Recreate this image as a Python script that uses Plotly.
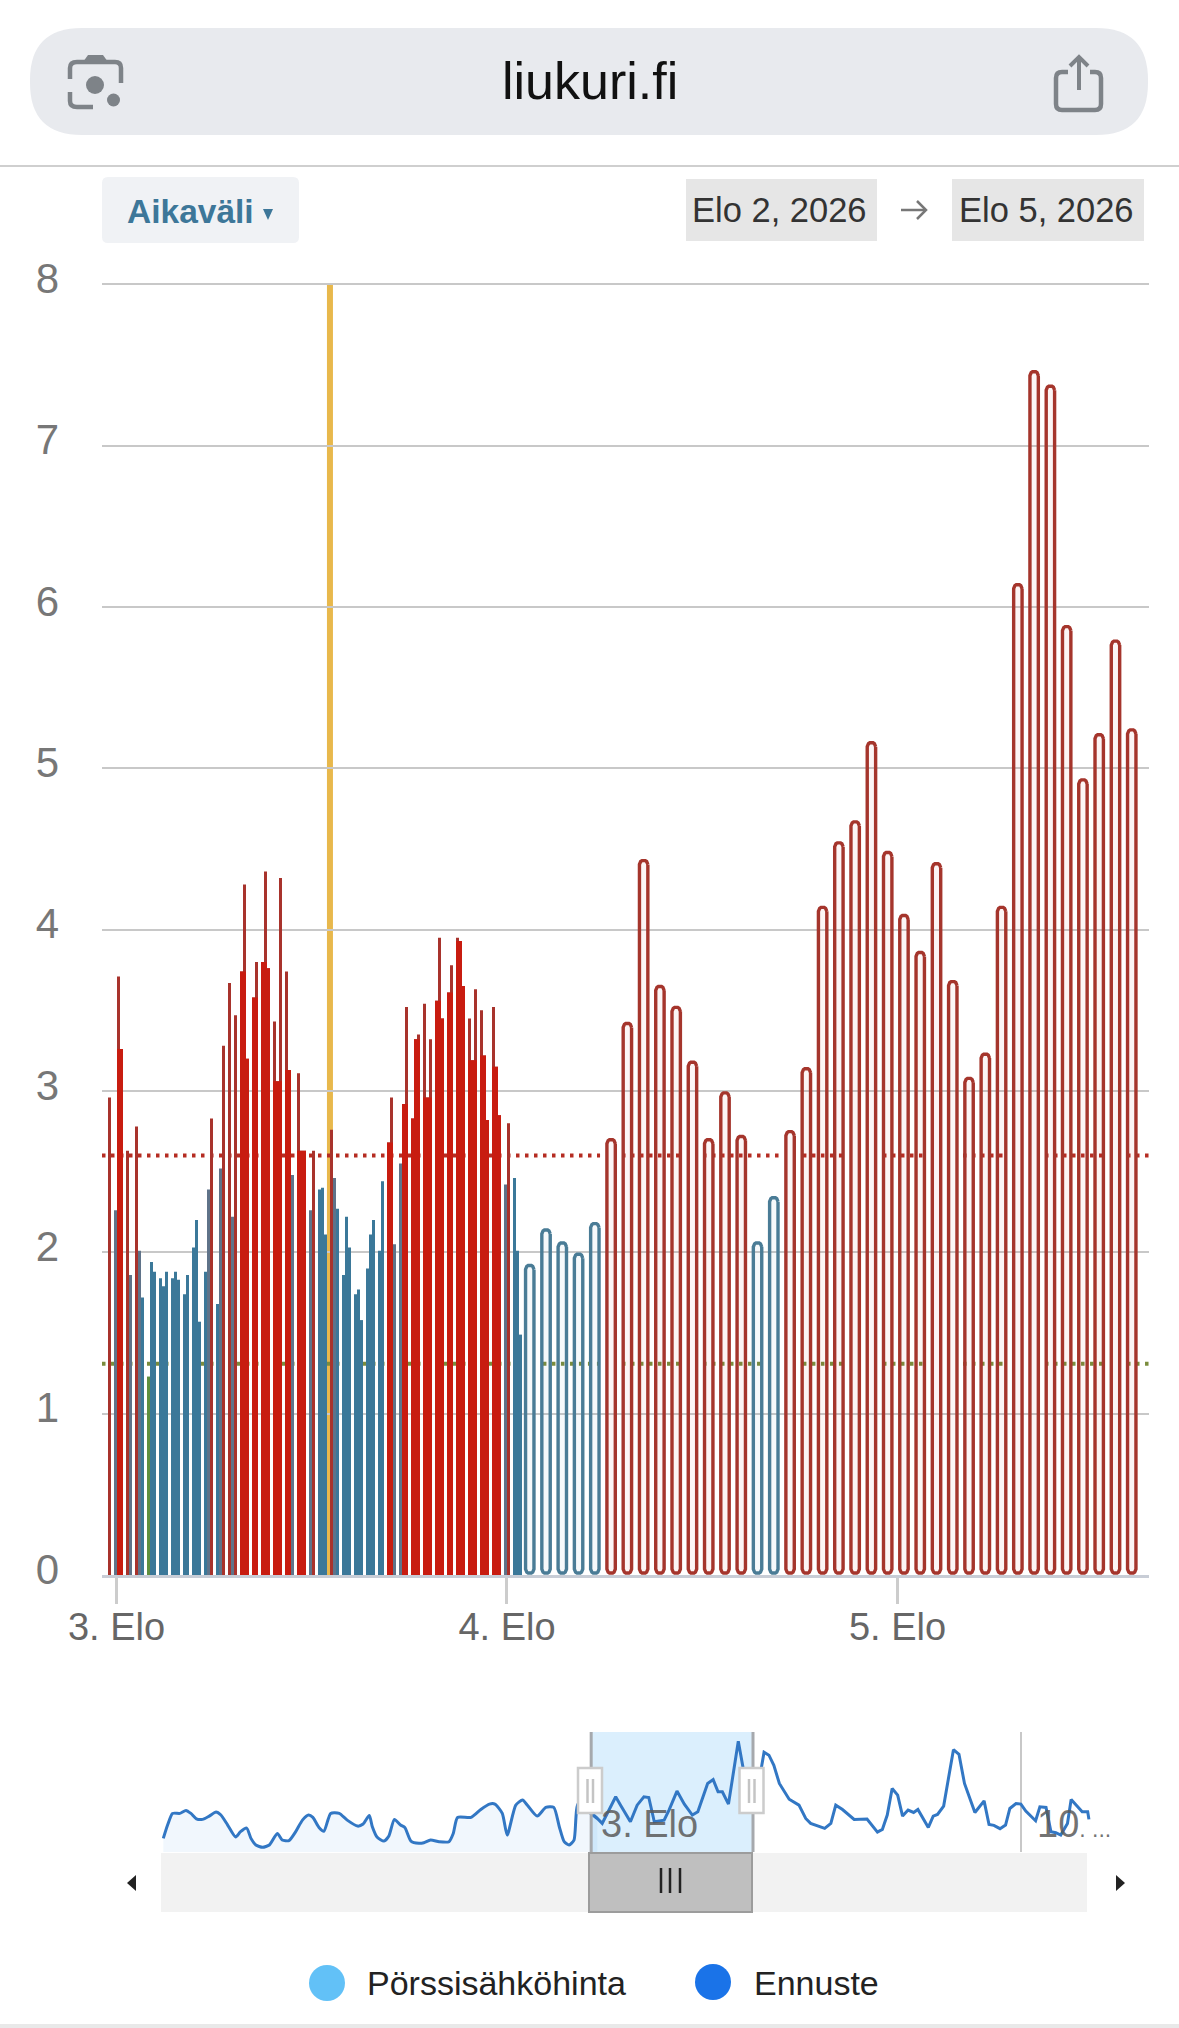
import numpy as np
import plotly.graph_objects as go

W, H = 1179, 2028

# quarter-hour prices from 3. Elo morning on
QUARTER_PRICES = [
    2.96, 2.26, 3.71, 3.26, 2.63, 1.86, 2.78, 2.01, 1.72, 1.23, 1.94, 1.88,
    1.84, 1.79, 1.88, 1.84, 1.88, 1.83, 1.74, 1.86, 2.03, 2.20, 1.57, 1.88,
    2.39, 2.83, 1.68, 2.52, 3.28, 3.67, 2.22, 3.47, 3.74, 4.28, 3.20, 3.58,
    3.80, 3.80, 4.36, 3.76, 3.43, 3.06, 4.32, 3.74, 3.13, 2.48, 3.11, 2.63,
    2.63, 2.26, 2.63, 2.39, 2.40, 2.11, 2.76, 2.46, 2.27, 1.86, 2.22, 2.03,
    1.74, 1.77, 1.58, 1.90, 2.11, 2.20, 2.01, 2.44, 2.68, 2.96, 2.05, 2.55,
    2.92, 3.52, 2.83, 3.32, 3.35, 3.54, 2.96, 3.32, 3.56, 3.95, 3.45, 3.61,
    3.78, 3.95, 3.93, 3.65, 3.45, 3.19, 3.63, 3.50, 3.22, 2.82, 3.52, 3.15,
    2.85, 2.42, 2.80, 2.46, 2.01, 1.49,
]
# hourly forecast after that
HOURLY_PRICES = [
    1.92, 2.14, 2.06, 1.99, 2.18, 2.70, 3.42, 4.43, 3.65, 3.52, 3.18, 2.70,
    2.99, 2.72, 2.06, 2.34, 2.75, 3.14, 4.14, 4.54, 4.67, 5.16, 4.48, 4.09,
    3.86, 4.41, 3.68, 3.08, 3.23, 4.14, 6.14, 7.46, 7.37, 5.88, 4.93, 5.21,
    5.79, 5.24,
]
PRICE_HIGH = 2.6
PRICE_LOW = 1.31
NOW_HOUR = 13.12

Y_TICKS = [0, 1, 2, 3, 4, 5, 6, 7, 8]
DAY_TICKS = [0, 24, 48]
DAY_LABELS = ["3. Elo", "4. Elo", "5. Elo"]

# navigator series, days from 3. Elo
NAV_DAYS = [
    -6.99, -6.92, -6.84, -6.72, -6.62, -6.54, -6.45, -6.35, -6.24, -6.13, -6.05, -5.94,
    -5.81, -5.73, -5.63, -5.56, -5.48, -5.37, -5.26, -5.13, -5.05, -4.94, -4.83, -4.72,
    -4.62, -4.55, -4.45, -4.37, -4.26, -4.12, -3.99, -3.82, -3.73, -3.63, -3.58, -3.50,
    -3.39, -3.31, -3.22, -3.12, -3.05, -2.95, -2.82, -2.74, -2.63, -2.49, -2.33, -2.26,
    -2.19, -1.97, -1.81, -1.67, -1.58, -1.46, -1.38, -1.24, -1.13, -1.05, -0.89, -0.75,
    -0.62, -0.53, -0.45, -0.37, -0.29, -0.22, 0.09, 0.17, 0.39, 0.47, 0.63, 0.74,
    0.85, 0.93, 1.02, 1.18, 1.26, 1.39, 1.51, 1.64, 1.73, 1.89, 1.98, 2.06,
    2.13, 2.23, 2.39, 2.47, 2.76, 2.81, 2.89, 2.97, 3.06, 3.22, 3.38, 3.49,
    3.57, 3.80, 3.90, 3.98, 4.09, 4.28, 4.49, 4.66, 4.74, 4.82, 4.90, 4.99,
    5.07, 5.16, 5.25, 5.32, 5.49, 5.57, 5.64, 5.74, 5.90, 5.99, 6.08, 6.25,
    6.40, 6.48, 6.56, 6.66, 6.75, 6.82, 6.92, 7.00, 7.08, 7.24, 7.31, 7.41,
    7.49, 7.57, 7.65, 7.76, 7.82, 8.00, 8.09, 8.11,
]
NAV_PRICES = [
    0.91, 1.80, 2.58, 2.58, 2.78, 2.58, 2.22, 2.18, 2.40, 2.67, 2.47, 1.80,
    1.00, 1.36, 1.60, 0.91, 0.47, 0.31, 0.47, 1.24, 0.80, 0.76, 1.36, 2.13,
    2.47, 2.31, 1.64, 1.38, 2.58, 2.58, 2.13, 1.73, 1.87, 2.44, 1.69, 0.98,
    0.73, 1.07, 2.18, 1.80, 1.64, 0.73, 0.58, 0.62, 0.80, 0.69, 0.69, 1.24,
    2.31, 2.31, 2.84, 3.20, 3.20, 2.58, 1.13, 3.13, 3.47, 3.13, 2.40, 2.98,
    2.98, 1.69, 0.69, 0.47, 0.80, 3.24, 2.24, 1.91, 3.69, 3.13, 2.02, 3.13,
    3.69, 3.64, 2.02, 2.13, 2.80, 4.07, 3.20, 2.47, 2.69, 4.58, 4.84, 4.02,
    4.02, 3.20, 7.40, 5.58, 5.47, 6.67, 6.47, 5.80, 4.58, 3.53, 3.13, 2.24,
    1.91, 1.58, 1.91, 3.13, 2.84, 2.18, 2.20, 1.33, 1.51, 2.47, 4.24, 3.80,
    2.40, 2.80, 2.64, 2.84, 1.64, 2.40, 2.51, 3.07, 6.84, 6.53, 4.58, 2.64,
    3.42, 1.84, 1.78, 1.56, 1.80, 2.91, 3.24, 3.20, 2.73, 2.09, 3.02, 2.98,
    1.36, 1.29, 1.13, 1.91, 3.51, 2.69, 2.69, 2.18,
]
NAV_SELECTION = [-0.01, 2.63]

# stretches (hours) where the dotted limit lines are not drawn
HIGH_GAPS = [(29.72, 31.07), (34.76, 36.05), (40.78, 42.19), (44.78, 47.11),
             (49.82, 52.03), (54.73, 57.07), (60.76, 62.11)]
LOW_GAPS = [(24.62, 26.21), (29.72, 31.07), (34.76, 36.05), (39.74, 42.19), (44.78, 47.11),
            (49.82, 52.03), (54.73, 57.07), (60.76, 62.11)]

RED = "#a8332c"
RED_BRIGHT = "#c81c10"
BLUE = "#3b7899"
BLUE_GREY = "#5f7389"
GREEN = "#5f8f3e"
GRID = "#c8c8c8"
ICON = "#7e8388"

PX_PER_HOUR = 16.27
HOUR_ZERO_PX = 116.5
X_RANGE = [(102 - HOUR_ZERO_PX) / PX_PER_HOUR, (1149 - HOUR_ZERO_PX) / PX_PER_HOUR]
NAV_RANGE = [-7.99, 9.09]


def px(x):
    return x / W


def py(y):
    return 1 - y / H


def rounded_rect(x0, y0, x1, y1, r):
    return (
        f"M {px(x0 + r)} {py(y0)} L {px(x1 - r)} {py(y0)} Q {px(x1)} {py(y0)} {px(x1)} {py(y0 + r)} "
        f"L {px(x1)} {py(y1 - r)} Q {px(x1)} {py(y1)} {px(x1 - r)} {py(y1)} "
        f"L {px(x0 + r)} {py(y1)} Q {px(x0)} {py(y1)} {px(x0)} {py(y1 - r)} "
        f"L {px(x0)} {py(y0 + r)} Q {px(x0)} {py(y0)} {px(x0 + r)} {py(y0)} Z"
    )


def polyline(points):
    out = []
    for i, p in enumerate(points):
        if p[0] == "Q":
            out.append(f"Q {px(p[1])} {py(p[2])} {px(p[3])} {py(p[4])}")
        else:
            out.append(f"{'M' if i == 0 else 'L'} {px(p[0])} {py(p[1])}")
    return " ".join(out)


def box(x0, y0, x1, y1, fill, line=None, width=0):
    return dict(type="rect", xref="paper", yref="paper", x0=px(x0), x1=px(x1), y0=py(y0), y1=py(y1),
                fillcolor=fill, line=dict(color=line or fill, width=width), layer="above")


def stroke(points, color, width):
    return dict(type="path", xref="paper", yref="paper", path=polyline(points),
                line=dict(color=color, width=width), layer="above")


def dot(cx, cy, r, color):
    return dict(type="circle", xref="paper", yref="paper", x0=px(cx - r), x1=px(cx + r),
                y0=py(cy - r), y1=py(cy + r), fillcolor=color, line=dict(width=0), layer="above")


def text(x, y, s, size, color="#333333", bold=False, anchor="center"):
    return dict(xref="paper", yref="paper", x=px(x), y=py(y), text=f"<b>{s}</b>" if bold else s,
                showarrow=False, xanchor=anchor, yanchor="middle",
                font=dict(size=size, color=color, family="Liberation Sans"))


def pill_path(hours, values):
    """One closed pill outline per hour, None between them so a single trace draws all."""
    half_h = 4.2 / PX_PER_HOUR
    half_y = 4.2 / 161.6
    angle = np.linspace(0, np.pi, 9)
    xs, ys = [], []
    for h, v in zip(hours, values):
        xs += list(h + half_h * np.cos(angle)) + list(h - half_h * np.cos(angle)) + [h + half_h, None]
        ys += list(v - half_y + half_y * np.sin(angle)) + list(0.01 + half_y - half_y * np.sin(angle))
        ys += [v - half_y, None]
    return xs, ys


def dotted_segments(level, gaps, color):
    edges = [X_RANGE[0]] + [g for gap in gaps for g in gap] + [X_RANGE[1]]
    return [
        dict(type="line", xref="x", yref="y", x0=edges[i], x1=edges[i + 1], y0=level, y1=level,
             line=dict(color=color, width=4, dash="3.5px,5.5px"), layer="below")
        for i in range(0, len(edges), 2)
    ]


# bars sit on the phone's 3 device pixel grid, so quarters land in snapped slots
prices = np.array(QUARTER_PRICES)
slot_h = 3 / PX_PER_HOUR
slots = np.floor(np.arange(len(prices)) * 1.3545 + 0.93)
bar_x = (108 - HOUR_ZERO_PX) / PX_PER_HOUR + (slots + 0.5) * slot_h

is_red = prices >= PRICE_HIGH
bar_colors = []
shared = np.zeros(len(prices))
for i, v in enumerate(prices):
    near = [j for j in (i - 1, i + 1) if 0 <= j < len(prices) and abs(slots[j] - slots[i]) == 1]
    if is_red[i]:
        bar_colors.append(RED)
        reds = [prices[j] for j in near if is_red[j]]
        shared[i] = min(v, max(reds)) if reds else 0
    elif v < PRICE_LOW:
        bar_colors.append(GREEN)
    elif any(is_red[j] for j in near):
        bar_colors.append(BLUE_GREY)
    else:
        bar_colors.append(BLUE)

hourly = np.array(HOURLY_PRICES)
pill_hours = 25.4 + np.arange(len(hourly))
hi = hourly >= PRICE_HIGH

fig = go.Figure()
fig.add_trace(go.Bar(x=bar_x, y=prices, width=slot_h, marker=dict(color=bar_colors, line=dict(width=0))))
fig.add_trace(go.Bar(x=bar_x, y=shared, width=slot_h, marker=dict(color=RED_BRIGHT, line=dict(width=0))))

for mask, color, fill in [(~hi, "#4a7c96", "rgba(70,130,170,0.05)"), (hi, "#a5352c", "rgba(200,60,50,0.05)")]:
    xs, ys = pill_path(pill_hours[mask], hourly[mask])
    fig.add_trace(go.Scatter(x=xs, y=ys, mode="lines", fill="toself", fillcolor=fill,
                             line=dict(color=color, width=3.4), connectgaps=False))

# navigator: the past is smooth and filled, the rest is a plain line
nav_days = np.array(NAV_DAYS)
nav_prices = np.array(NAV_PRICES)
past = nav_days <= 0.09
fig.add_trace(go.Scatter(x=nav_days[past], y=nav_prices[past], mode="lines", fill="tozeroy",
                         fillcolor="rgba(60,140,230,0.07)", xaxis="x2", yaxis="y2",
                         line=dict(color="#3277c4", width=3, shape="spline", smoothing=0.6)))
rest = nav_days >= -0.22
fig.add_trace(go.Scatter(x=nav_days[rest], y=nav_prices[rest], mode="lines", xaxis="x2", yaxis="y2",
                         line=dict(color="#3277c4", width=3)))

sel0, sel1 = NAV_SELECTION
shapes = dotted_segments(PRICE_HIGH, HIGH_GAPS, "#b52c22") + dotted_segments(PRICE_LOW, LOW_GAPS, "#7a8c3c")
shapes.append(dict(type="line", xref="x", yref="paper", x0=NOW_HOUR, x1=NOW_HOUR, y0=py(1576), y1=py(283),
                   line=dict(color="#e8b84c", width=6), layer="below"))
# navigator selection
shapes.append(dict(type="rect", xref="x2", yref="paper", x0=sel0, x1=sel1, y0=py(1852), y1=py(1732),
                   fillcolor="#dbeffd", line=dict(width=0), layer="below"))
for edge in (sel0, sel1):
    shapes.append(dict(type="line", xref="x2", yref="paper", x0=edge, x1=edge, y0=py(1852), y1=py(1732),
                       line=dict(color="#a6a9ad", width=3), layer="above"))
# scrollbar
shapes.append(box(161, 1853, 1087, 1912, "#f2f2f2"))
shapes.append(box(589, 1853, 752, 1912, "#bfbfbf", "#9c9c9c", 2))
for x in (661, 670, 680):
    shapes.append(stroke([(x, 1868), (x, 1893)], "#222222", 2.5))
shapes.append(dict(type="path", xref="paper", yref="paper", fillcolor="#222222", line=dict(width=0), layer="above",
                   path=polyline([(136, 1875), (136, 1891), (127, 1883)]) + " Z"))
shapes.append(dict(type="path", xref="paper", yref="paper", fillcolor="#222222", line=dict(width=0), layer="above",
                   path=polyline([(1116, 1875), (1116, 1891), (1125, 1883)]) + " Z"))
# navigator handles
for left_px in (578, 739.5):
    shapes.append(box(left_px, 1768, left_px + 24, 1813, "#ffffff", "#cccccc", 2.5))
    for dx in (9.5, 15):
        shapes.append(stroke([(left_px + dx, 1779), (left_px + dx, 1803)], "#c4c4c4", 2.5))

# browser bar
shapes.append(dict(type="path", xref="paper", yref="paper", path=rounded_rect(30, 28, 1148, 135, 52),
                   fillcolor="#e8eaee", line=dict(width=0), layer="above"))
shapes.append(stroke([(70, 79), (70, 68), ("Q", 70, 62, 77, 62), (115, 62), ("Q", 121, 62, 121, 68), (121, 83)], ICON, 4.5))
shapes.append(stroke([(70, 92), (70, 101), ("Q", 70, 107, 77, 107), (93, 107)], ICON, 4.5))
shapes.append(dict(type="path", xref="paper", yref="paper", fillcolor=ICON, line=dict(width=0), layer="above",
                   path=polyline([(83, 62), (88, 55), (103, 55), (108, 62)]) + " Z"))
shapes.append(dot(95, 85, 9, ICON))
shapes.append(dot(113.5, 100, 6.5, ICON))
shapes.append(stroke([(1068, 72), (1062, 72), ("Q", 1056, 72, 1056, 78), (1056, 104), ("Q", 1056, 110, 1062, 110),
                      (1095, 110), ("Q", 1101, 110, 1101, 104), (1101, 78), ("Q", 1101, 72, 1095, 72), (1090, 72)], ICON, 4.5))
shapes.append(stroke([(1079, 58), (1079, 90)], ICON, 4))
shapes.append(stroke([(1070, 66), (1079, 57), (1088, 66)], ICON, 4))
shapes.append(box(0, 165, W, 167, "#cfcfcf"))

# range controls
shapes.append(dict(type="path", xref="paper", yref="paper", path=rounded_rect(102, 177, 299, 243, 6),
                   fillcolor="#f0f2f5", line=dict(width=0), layer="above"))
shapes.append(dict(type="path", xref="paper", yref="paper", fillcolor="#3d7799", line=dict(width=0), layer="above",
                   path=polyline([(263, 209), (273, 209), (268, 220)]) + " Z"))
shapes.append(box(686, 179, 877, 241, "#e6e6e6"))
shapes.append(box(952, 179, 1144, 241, "#e6e6e6"))
shapes.append(stroke([(901, 210), (926, 210)], "#777777", 2.5))
shapes.append(stroke([(917, 201), (926, 210), (917, 219)], "#777777", 2.5))

# legend and footer
shapes.append(dot(327, 1983, 18, "#62c1f7"))
shapes.append(dot(713, 1982, 18, "#1a73e8"))
shapes.append(box(0, 2024, W, 2028, "#e9e9e9"))

annotations = [
    text(590, 81, "liukuri.fi", 52, "#111111"),
    text(125, 212, "Aikaväli", 33.5, "#3d7799", bold=True, anchor="left"),
    text(779, 210, "Elo 2, 2026", 34.5),
    text(1046, 210, "Elo 5, 2026", 34.5),
    text(365, 1983, "Pörssisähköhinta", 34, "#222222", anchor="left"),
    text(752, 1983, "Ennuste", 34, "#222222", anchor="left"),
    text(599, 1824, "3. Elo", 38, "rgba(90,90,90,0.85)", anchor="left"),
    text(1035, 1824, '10<span style="font-size:23px">. ...</span>', 38, "rgba(90,90,90,0.85)", anchor="left"),
]

fig.update_layout(
    width=W,
    height=H,
    margin=dict(l=0, r=0, t=0, b=0),
    paper_bgcolor="white",
    plot_bgcolor="white",
    showlegend=False,
    hovermode=False,
    barmode="overlay",
    font=dict(family="Liberation Sans"),
    shapes=shapes,
    annotations=annotations,
    xaxis=dict(
        domain=[px(102), px(1149)],
        range=X_RANGE,
        automargin=False,
        tickmode="array",
        tickvals=DAY_TICKS,
        ticktext=DAY_LABELS,
        ticks="outside",
        ticklen=26,
        tickwidth=2.5,
        tickcolor="#cccccc",
        tickfont=dict(size=38, color="#666666"),
        ticklabelstandoff=-9,
        showgrid=False,
        zeroline=False,
        showline=True,
        linecolor="#c8cdd6",
        linewidth=2.5,
    ),
    yaxis=dict(
        domain=[py(1575), py(283)],
        range=[0, 8.008],
        automargin=False,
        tickmode="array",
        tickvals=Y_TICKS,
        tickfont=dict(size=42, color="#777777"),
        ticklabelstandoff=42,
        ticklabelshift=-6,
        gridcolor=GRID,
        gridwidth=2,
        zeroline=False,
    ),
    xaxis2=dict(
        domain=[px(102), px(1149)],
        range=NAV_RANGE,
        anchor="y2",
        automargin=False,
        tickmode="array",
        tickvals=[7],
        showticklabels=False,
        gridcolor=GRID,
        gridwidth=2,
        zeroline=False,
    ),
    yaxis2=dict(
        domain=[py(1852), py(1732)],
        range=[0, 8.02],
        anchor="x2",
        automargin=False,
        tickmode="array",
        tickvals=[8],
        showticklabels=False,
        gridcolor=GRID,
        gridwidth=3,
        zeroline=False,
    ),
)

fig.write_html("out.html", config=dict(displayModeBar=False), post_script="document.body.style.margin='0';")
